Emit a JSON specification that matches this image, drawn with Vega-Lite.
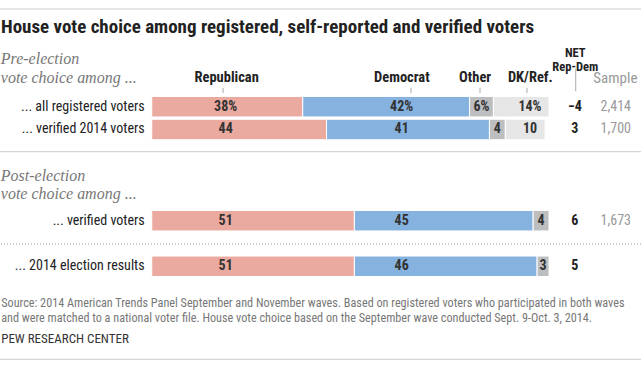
{
  "$schema": "https://vega.github.io/schema/vega-lite/v6.json",
  "width": 641,
  "height": 319.2,
  "autosize": {"type": "none"},
  "padding": {"left": 0, "right": 0, "top": 44, "bottom": 0},
  "background": "white",
  "config": {"view": {"stroke": null}},
  "title": {
    "text": "House vote choice among registered, self-reported and verified voters",
    "anchor": "start",
    "frame": "group",
    "font": "Liberation Sans Narrow, Arial Narrow, Roboto Condensed, DejaVu Sans Condensed, sans-serif",
    "fontSize": 19,
    "fontWeight": "bold",
    "color": "#222222",
    "offset": -28,
    "dx": 1
  },
  "datasets": {
    "bars": [
      {"row": "... all registered voters", "category": "Republican", "pct": 38, "label": "38%"},
      {"row": "... all registered voters", "category": "Democrat", "pct": 42, "label": "42%"},
      {"row": "... all registered voters", "category": "Other", "pct": 6, "label": "6%"},
      {"row": "... all registered voters", "category": "DK/Ref.", "pct": 14, "label": "14%"},
      {"row": "... verified 2014 voters", "category": "Republican", "pct": 44, "label": "44"},
      {"row": "... verified 2014 voters", "category": "Democrat", "pct": 41, "label": "41"},
      {"row": "... verified 2014 voters", "category": "Other", "pct": 4, "label": "4"},
      {"row": "... verified 2014 voters", "category": "DK/Ref.", "pct": 10, "label": "10"},
      {"row": "... verified voters", "category": "Republican", "pct": 51, "label": "51"},
      {"row": "... verified voters", "category": "Democrat", "pct": 45, "label": "45"},
      {"row": "... verified voters", "category": "Other", "pct": 4, "label": "4"},
      {"row": "... 2014 election results", "category": "Republican", "pct": 51, "label": "51"},
      {"row": "... 2014 election results", "category": "Democrat", "pct": 46, "label": "46"},
      {"row": "... 2014 election results", "category": "Other", "pct": 3, "label": "3"}
    ],
    "rows": [
      {"row": "... all registered voters", "net": -4, "sample": 2414},
      {"row": "... verified 2014 voters", "net": 3, "sample": 1700},
      {"row": "... verified voters", "net": 6, "sample": 1673},
      {"row": "... 2014 election results", "net": 5, "sample": null}
    ]
  },
  "layer": [
    {
      "data": {"name": "bars"},
      "transform": [
        {"calculate": "indexof(['Republican','Democrat','Other','DK/Ref.'], datum.category)", "as": "ord"},
        {"stack": "pct", "groupby": ["row"], "sort": [{"field": "ord", "order": "ascending"}], "as": ["x0", "x1"]}
      ],
      "mark": {"type": "bar", "height": 20.5, "stroke": "white", "strokeWidth": 1},
      "encoding": {
        "y": {
          "field": "row", "type": "nominal", "axis": null,
          "scale": {
            "domain": ["s0","s1","s2","s3","s4","... all registered voters","s6","... verified 2014 voters","s8","s9","s10","s11","s12","s13","s14","... verified voters","s16","s17","s18","... 2014 election results","s20","s21","s22","s23","s24","s25","s26","s27"],
            "paddingInner": 0, "paddingOuter": 0
          }
        },
        "x": {"field": "x0", "type": "quantitative", "axis": null, "scale": {"domain": [-38.2, 123.15], "nice": false, "zero": false}},
        "x2": {"field": "x1"},
        "color": {
          "field": "category", "type": "nominal", "legend": null,
          "scale": {"domain": ["Republican", "Democrat", "Other", "DK/Ref."], "range": ["#EAAA9F", "#86B2DF", "#BDBEC0", "#E6E6E6"]}
        }
      }
    },
    {
      "data": {"name": "bars"},
      "transform": [{"filter": "datum.category === 'Republican'"}],
      "mark": {"type": "text", "font": "Liberation Sans Narrow, Arial Narrow, Roboto Condensed, DejaVu Sans Condensed, sans-serif", "fontSize": 14, "fontWeight": "bold", "color": "#333333"},
      "encoding": {
        "y": {"field": "row", "type": "nominal", "axis": null},
        "x": {"datum": 18.6, "type": "quantitative", "axis": null},
        "text": {"field": "label"}
      }
    },
    {
      "data": {"name": "bars"},
      "transform": [{"filter": "datum.category === 'Democrat'"}],
      "mark": {"type": "text", "font": "Liberation Sans Narrow, Arial Narrow, Roboto Condensed, DejaVu Sans Condensed, sans-serif", "fontSize": 14, "fontWeight": "bold", "color": "#333333"},
      "encoding": {
        "y": {"field": "row", "type": "nominal", "axis": null},
        "x": {"datum": 62.9, "type": "quantitative", "axis": null},
        "text": {"field": "label"}
      }
    },
    {
      "data": {"name": "bars"},
      "transform": [
        {"calculate": "indexof(['Republican','Democrat','Other','DK/Ref.'], datum.category)", "as": "ord"},
        {"stack": "pct", "groupby": ["row"], "sort": [{"field": "ord", "order": "ascending"}], "as": ["x0", "x1"]},
        {"filter": "datum.category === 'Other'"},
        {"calculate": "(datum.x0 + datum.x1) / 2", "as": "mid"}
      ],
      "mark": {"type": "text", "font": "Liberation Sans Narrow, Arial Narrow, Roboto Condensed, DejaVu Sans Condensed, sans-serif", "fontSize": 14, "fontWeight": "bold", "color": "#333333"},
      "encoding": {
        "y": {"field": "row", "type": "nominal", "axis": null},
        "x": {"field": "mid", "type": "quantitative", "axis": null},
        "text": {"field": "label"}
      }
    },
    {
      "data": {"name": "bars"},
      "transform": [{"filter": "datum.category === 'DK/Ref.'"}],
      "mark": {"type": "text", "font": "Liberation Sans Narrow, Arial Narrow, Roboto Condensed, DejaVu Sans Condensed, sans-serif", "fontSize": 14, "fontWeight": "bold", "color": "#333333"},
      "encoding": {
        "y": {"field": "row", "type": "nominal", "axis": null},
        "x": {"datum": 95.2, "type": "quantitative", "axis": null},
        "text": {"field": "label"}
      }
    },
    {
      "data": {"name": "rows"},
      "mark": {"type": "text", "align": "right", "font": "Liberation Sans Narrow, Arial Narrow, Roboto Condensed, DejaVu Sans Condensed, sans-serif", "fontSize": 14, "color": "#222222"},
      "encoding": {
        "y": {"field": "row", "type": "nominal", "axis": null},
        "x": {"datum": -1.8, "type": "quantitative", "axis": null},
        "text": {"field": "row"}
      }
    },
    {
      "data": {"name": "rows"},
      "mark": {"type": "text", "font": "Liberation Sans Narrow, Arial Narrow, Roboto Condensed, DejaVu Sans Condensed, sans-serif", "fontSize": 14, "fontWeight": "bold", "color": "#222222"},
      "encoding": {
        "y": {"field": "row", "type": "nominal", "axis": null},
        "x": {"datum": 106.5, "type": "quantitative", "axis": null},
        "text": {"field": "net", "type": "quantitative", "format": "d"}
      }
    },
    {
      "data": {"name": "rows"},
      "transform": [{"filter": "isValid(datum.sample)"}],
      "mark": {"type": "text", "font": "Liberation Sans Narrow, Arial Narrow, Roboto Condensed, DejaVu Sans Condensed, sans-serif", "fontSize": 14, "color": "#999999"},
      "encoding": {
        "y": {"field": "row", "type": "nominal", "axis": null},
        "x": {"datum": 116.8, "type": "quantitative", "axis": null},
        "text": {"field": "sample", "type": "quantitative", "format": ","}
      }
    },
    {
      "data": {"values": [{}]},
      "layer": [
        {"mark": {"type": "text", "text": "Republican", "font": "Liberation Sans Narrow, Arial Narrow, Roboto Condensed, DejaVu Sans Condensed, sans-serif", "fontSize": 14.5, "fontWeight": "bold", "color": "#222222"},
         "encoding": {"x": {"datum": 18.85, "type": "quantitative", "axis": null}, "y": {"datum": "s2", "type": "nominal", "bandPosition": 0.98, "axis": null}}},
        {"mark": {"type": "text", "text": "Democrat", "font": "Liberation Sans Narrow, Arial Narrow, Roboto Condensed, DejaVu Sans Condensed, sans-serif", "fontSize": 14.5, "fontWeight": "bold", "color": "#222222"},
         "encoding": {"x": {"datum": 62.95, "type": "quantitative", "axis": null}, "y": {"datum": "s2", "type": "nominal", "bandPosition": 0.98, "axis": null}}},
        {"mark": {"type": "text", "text": "Other", "font": "Liberation Sans Narrow, Arial Narrow, Roboto Condensed, DejaVu Sans Condensed, sans-serif", "fontSize": 14.5, "fontWeight": "bold", "color": "#222222"},
         "encoding": {"x": {"datum": 81.4, "type": "quantitative", "axis": null}, "y": {"datum": "s2", "type": "nominal", "bandPosition": 0.98, "axis": null}}},
        {"mark": {"type": "text", "text": "DK/Ref.", "font": "Liberation Sans Narrow, Arial Narrow, Roboto Condensed, DejaVu Sans Condensed, sans-serif", "fontSize": 14.5, "fontWeight": "bold", "color": "#222222"},
         "encoding": {"x": {"datum": 95.3, "type": "quantitative", "axis": null}, "y": {"datum": "s2", "type": "nominal", "bandPosition": 0.98, "axis": null}}},
        {"mark": {"type": "text", "text": ["NET", "Rep-Dem"], "lineHeight": 13.5, "font": "Liberation Sans Narrow, Arial Narrow, Roboto Condensed, DejaVu Sans Condensed, sans-serif", "fontSize": 12.5, "fontWeight": "bold", "color": "#222222"},
         "encoding": {"x": {"datum": 106.6, "type": "quantitative", "axis": null}, "y": {"datum": "s0", "type": "nominal", "bandPosition": 0.8, "axis": null}}},
        {"mark": {"type": "text", "text": "Sample", "font": "Liberation Sans Narrow, Arial Narrow, Roboto Condensed, DejaVu Sans Condensed, sans-serif", "fontSize": 15, "color": "#999999"},
         "encoding": {"x": {"datum": 116.7, "type": "quantitative", "axis": null}, "y": {"datum": "s2", "type": "nominal", "bandPosition": 0.98, "axis": null}}},
        {"mark": {"type": "text", "text": ["Pre-election", "vote choice among ..."], "lineHeight": 19, "align": "left", "font": "Georgia, Liberation Serif, DejaVu Serif, serif", "fontStyle": "italic", "fontSize": 16, "color": "#777777"},
         "encoding": {"x": {"datum": -38.0, "type": "quantitative", "axis": null}, "y": {"datum": "s1", "type": "nominal", "bandPosition": 0.342, "axis": null}}},
        {"mark": {"type": "text", "text": ["Post-election", "vote choice among ..."], "lineHeight": 18, "align": "left", "font": "Georgia, Liberation Serif, DejaVu Serif, serif", "fontStyle": "italic", "fontSize": 16, "color": "#777777"},
         "encoding": {"x": {"datum": -38.0, "type": "quantitative", "axis": null}, "y": {"datum": "s11", "type": "nominal", "bandPosition": 0.58, "axis": null}}},
        {"mark": {"type": "text", "text": ["Source: 2014 American Trends Panel September and November waves. Based on registered voters who participated in both waves", "and were matched to a national voter file. House vote choice based on the September wave conducted Sept. 9-Oct. 3, 2014."], "lineHeight": 15.6, "align": "left", "font": "Liberation Sans Narrow, Arial Narrow, Roboto Condensed, DejaVu Sans Condensed, sans-serif", "fontSize": 12.2, "color": "#777777"},
         "encoding": {"x": {"datum": -37.9, "type": "quantitative", "axis": null}, "y": {"datum": "s22", "type": "nominal", "bandPosition": 0.69, "axis": null}}},
        {"mark": {"type": "text", "text": "PEW RESEARCH CENTER", "align": "left", "font": "Liberation Sans Narrow, Arial Narrow, Roboto Condensed, DejaVu Sans Condensed, sans-serif", "fontSize": 13, "color": "#333333"},
         "encoding": {"x": {"datum": -37.9, "type": "quantitative", "axis": null}, "y": {"datum": "s25", "type": "nominal", "bandPosition": 0.9, "axis": null}}},
        {"mark": {"type": "rule", "color": "#AAAAAA", "strokeWidth": 1},
         "encoding": {"x": {"datum": 17.95, "type": "quantitative", "axis": null}, "y": {"datum": "s3", "type": "nominal", "bandPosition": 0.85, "axis": null}, "y2": {"datum": "s4", "bandPosition": 0.3}}},
        {"mark": {"type": "rule", "color": "#AAAAAA", "strokeWidth": 1},
         "encoding": {"x": {"datum": 65.27, "type": "quantitative", "axis": null}, "y": {"datum": "s3", "type": "nominal", "bandPosition": 0.85, "axis": null}, "y2": {"datum": "s4", "bandPosition": 0.3}}},
        {"mark": {"type": "rule", "color": "#AAAAAA", "strokeWidth": 1},
         "encoding": {"x": {"datum": 82.63, "type": "quantitative", "axis": null}, "y": {"datum": "s3", "type": "nominal", "bandPosition": 0.85, "axis": null}, "y2": {"datum": "s4", "bandPosition": 0.3}}},
        {"mark": {"type": "rule", "color": "#AAAAAA", "strokeWidth": 1},
         "encoding": {"x": {"datum": 94.46, "type": "quantitative", "axis": null}, "y": {"datum": "s3", "type": "nominal", "bandPosition": 0.85, "axis": null}, "y2": {"datum": "s4", "bandPosition": 0.3}}},
        {"mark": {"type": "rule", "color": "#AAAAAA", "strokeWidth": 1},
         "encoding": {"x": {"datum": 106.72, "type": "quantitative", "axis": null}, "y": {"datum": "s2", "type": "nominal", "bandPosition": 0.15, "axis": null}, "y2": {"datum": "s4", "bandPosition": 0.14}}},
        {"mark": {"type": "rule", "color": "#CCCCCC", "strokeWidth": 1},
         "encoding": {"y": {"datum": "s0", "type": "nominal", "bandPosition": -3.07, "axis": null}}},
        {"mark": {"type": "rule", "color": "#CCCCCC", "strokeWidth": 1},
         "encoding": {"y": {"datum": "s9", "type": "nominal", "bandPosition": 0.447, "axis": null}}},
        {"mark": {"type": "rule", "color": "#999999", "strokeWidth": 1, "strokeDash": [1, 2]},
         "encoding": {"y": {"datum": "s17", "type": "nominal", "bandPosition": 0.54, "axis": null}}},
        {"mark": {"type": "rule", "color": "#CCCCCC", "strokeWidth": 1},
         "encoding": {"y": {"datum": "s27", "type": "nominal", "bandPosition": 0.66, "axis": null}}}
      ]
    }
  ]
}
